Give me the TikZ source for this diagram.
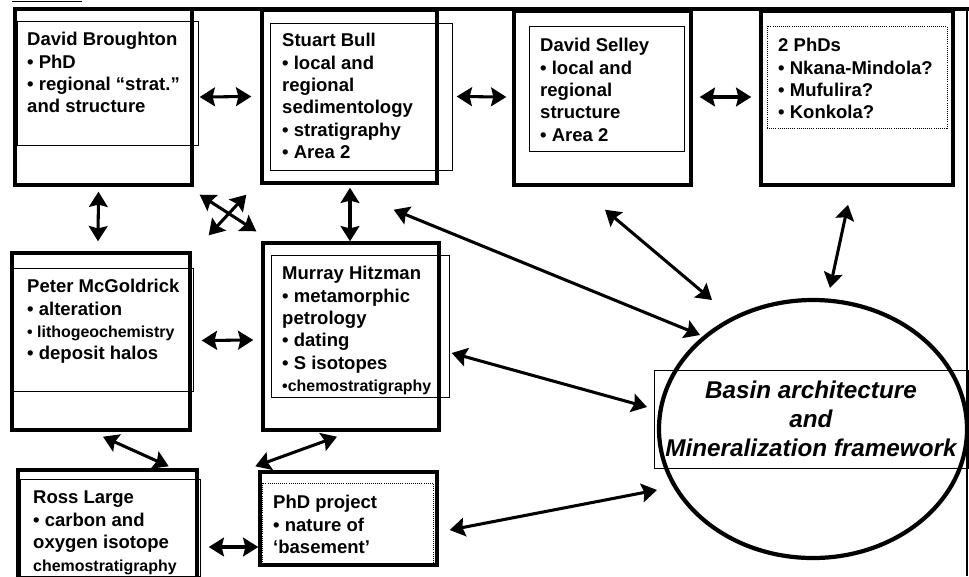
\documentclass[tikz,border=0pt]{standalone}
\usepackage{fontspec}
\setmainfont{Liberation Sans}
\usepackage{tikz}
\usetikzlibrary{arrows.meta,shapes.geometric,fit}
\tikzstyle{outerbox}=[rectangle,draw=black,line width=2.9pt,inner sep=0pt]
\tikzstyle{innerbox}=[rectangle,draw=black,line width=0.6pt,inner sep=0pt]
\tikzstyle{dotbox}=[rectangle,draw=black,line width=0.8pt,densely dotted,inner sep=0pt]
\tikzstyle{words}=[anchor=north west,inner sep=0pt,align=left,font=\fontsize{15.8}{19.1}\selectfont\bfseries]
\tikzstyle{link}=[<->,line width=2.6pt]
\newcommand{\smallline}[1]{{\fontsize{13.6}{19.1}\selectfont #1}}

\begin{document}
\begin{tikzpicture}[x=0.03cm,y=-0.03cm,>={Stealth[length=13pt,width=16pt,inset=2pt]}]
  \useasboundingbox (0,0) rectangle (969,576);

  % page frame
  \draw[line width=2.6pt] (15,9) -- (969,9);
  \draw[line width=1.5pt] (967,9) -- (967,576);
  \draw[line width=0.5pt] (12,1.5) -- (82,1.5);

  % top row
  \node[outerbox,fit={(15,9) (192,185)}]   (broughton) {};
  \node[innerbox,fit={(17,21) (198,145)}]  (broughtonin) {};
  \node[words] (broughtontxt) at (27,32) {David Broughton\\• PhD\\• regional “strat.”\\and structure};

  \node[outerbox,fit={(262,10) (437,183)}] (bull) {};
  \node[innerbox,fit={(270,23) (452,170)}] (bullin) {};
  \node[words] (bulltxt) at (282,33) {Stuart Bull\\• local and\\regional\\sedimentology\\• stratigraphy\\• Area 2};

  \node[outerbox,fit={(514,11) (691,185)}] (selley) {};
  \node[innerbox,fit={(529,26) (684,151)}] (selleyin) {};
  \node[words] (selleytxt) at (540,38) {David Selley\\• local and\\regional\\structure\\• Area 2};

  \node[outerbox,fit={(761,11) (953,185)}] (phds) {};
  \node[dotbox,fit={(767,26) (947,128)}]   (phdsin) {};
  \node[words] (phdstxt) at (778,38) {2 PhDs\\• Nkana-Mindola?\\• Mufulira?\\• Konkola?};

  % middle row
  \node[outerbox,fit={(12,253) (190,430)}] (peter) {};
  \node[innerbox,fit={(12,268) (193,391)}] (peterin) {};
  \node[words] (petertxt) at (27,279) {Peter McGoldrick\\• alteration\\\smallline{• lithogeochemistry}\\• deposit halos};

  \node[outerbox,fit={(263,243) (439,430)}] (murray) {};
  \node[innerbox,fit={(271,255) (449,397)}] (murrayin) {};
  \node[words] (murraytxt) at (282,266) {Murray Hitzman\\• metamorphic\\petrology\\• dating\\• S isotopes\\\smallline{•chemostratigraphy}};

  % bottom row
  \node[outerbox,fit={(18,470) (197,582)}] (ross) {};
  \node[innerbox,fit={(20,479) (200,576)}] (rossin) {};
  \node[words] (rosstxt) at (33,491) {Ross Large\\• carbon and\\oxygen isotope\\\smallline{chemostratigraphy}};

  \node[outerbox,fit={(260,472) (437,565)}] (phdp) {};
  \node[dotbox,fit={(262,483) (433,565)}]   (phdpin) {};
  \node[words] (phdptxt) at (273,495) {PhD project\\• nature of\\‘basement’};

  % the goal
  \node[ellipse,draw=black,line width=3.6pt,minimum width=9.24cm,minimum height=7.74cm,inner sep=0pt] (basin) at (813,429) {};
  \node[innerbox,minimum width=9.42cm,minimum height=2.94cm,align=center,
        font=\fontsize{20.7}{24.7}\selectfont\bfseries\itshape] (basintxt) at (811,419)
        {Basin architecture\\and\\Mineralization framework};

  % links
  \path[link] ([shift={(6,0)}]broughton.east) edge ([shift={(-9,0)}]bull.west)
        ([shift={(18,0)}]bull.east) edge ([shift={(-6,-1)}]selley.west)
        ([shift={(7,-1)}]selley.east) edge ([shift={(-8,-1)}]phds.west)
        ([shift={(-5,5)}]broughton.south) edge ([shift={(-3,-10)}]peter.north)
        ([shift={(6,8)}]broughton.south east) edge ([shift={(-5,-10)}]murray.north west)
        ([shift={(-14,10)}]bull.south west) edge ([shift={(17,-16)}]peter.north east)
        ([shift={(0.5,3)}]bull.south) edge ([shift={(-1,0)}]murray.north)
        ([shift={(-45,25)}]bull.south east) edge ([shift={(-113,-94)}]basin.center)
        ([shift={(2.5,23)}]selley.south) edge ([shift={(-101,-129)}]basin.center)
        ([shift={(-9,18)}]phds.south) edge ([shift={(17,-141)}]basin.center)
        ([shift={(10,-1)}]peter.east) edge ([shift={(-8,3.5)}]murray.west)
        ([shift={(11,16.5)}]murray.east) edge ([shift={(-166,-22)}]basin.center)
        ([shift={(2,5)}]peter.south) edge ([shift={(-30,-2)}]ross.north east)
        ([shift={(-14,5)}]murray.south) edge ([shift={(-3,-4)}]phdp.north west)
        ([shift={(10,21)}]ross.east) edge ([shift={(0,28.5)}]phdp.west)
        ([shift={(11,11.5)}]phdp.east) edge ([shift={(-156,61)}]basin.center);
\end{tikzpicture}
\end{document}
